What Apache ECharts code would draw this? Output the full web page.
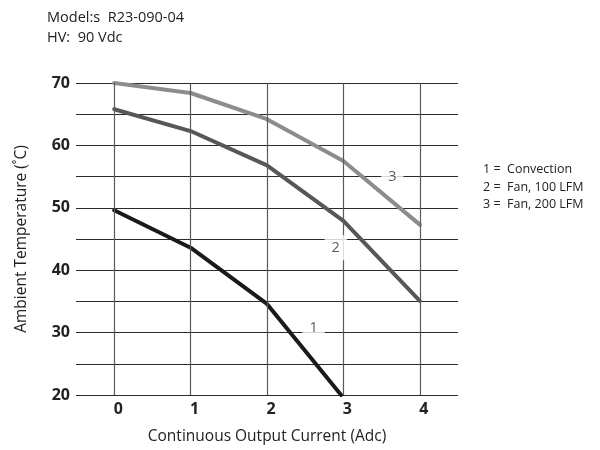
<!DOCTYPE html>
<html>
<head>
<meta charset="utf-8">
<script src="https://cdn.jsdelivr.net/npm/echarts@6/dist/echarts.min.js"></script>
<style>html,body{margin:0;padding:0;background:#fff;}#c{width:600px;height:450px;}</style>
</head>
<body>
<div id="c"></div>
<script>
var xTicks = [0, 1, 2, 3, 4];
var convection = [[0, 49.6], [1, 43.6], [2, 34.6], [2.97, 20]];
var fan100 = [[0, 65.8], [1, 62.3], [2, 56.8], [3, 47.9], [4, 35.1]];
var fan200 = [[0, 70], [1, 68.4], [2, 64.2], [3, 57.5], [4, 47.3]];
var curveLabels = [[2.61, 30.8, '1'], [2.9, 43.6, '2'], [3.64, 55, '3']];
var legendLines = ['1 =  Convection', '2 =  Fan, 100 LFM', '3 =  Fan, 200 LFM'];
var titleLines = ['Model:s  R23-090-04', 'HV:  90 Vdc'];

var font = 'Open Sans';
var chart = echarts.init(document.getElementById('c'));
chart.setOption({
  animation: false,
  backgroundColor: '#fff',
  graphic: [
    { type: 'text', left: 47, top: 8, style: { text: titleLines.join('\n'), font: '14.5px "' + font + '"', fill: '#222', lineHeight: 20 } },
    { type: 'text', left: 483, top: 161, style: { text: legendLines.join('\n'), font: '12.5px "' + font + '"', fill: '#222', lineHeight: 17.5 } }
  ],
  grid: { left: 76, right: 142, top: 83, bottom: 53 },
  xAxis: {
    type: 'value', min: -0.5, max: 4.5, interval: 0.5,
    axisLine: { show: false }, axisTick: { show: false }, splitLine: { show: false },
    axisLabel: {
      margin: 6, fontFamily: font, fontSize: 16, fontWeight: 'bold', color: '#222',
      padding: [0, 0, 0, 8],
      formatter: function (v) { return (Math.abs(v - Math.round(v)) < 1e-6 && v >= 0 && v <= 4) ? String(Math.round(v)) : ''; }
    },
    name: 'Continuous Output Current (Adc)', nameLocation: 'middle', nameGap: 34,
    nameTextStyle: { fontFamily: font, fontSize: 15.5, color: '#222' }
  },
  yAxis: {
    type: 'value', min: 20, max: 70, interval: 5,
    axisLine: { show: false }, axisTick: { show: false },
    splitLine: { show: true, lineStyle: { color: '#2a2a2a', width: 1.2 } },
    axisLabel: {
      margin: 6, fontFamily: font, fontSize: 16, fontWeight: 'bold', color: '#222',
      formatter: function (v) { return v % 10 === 0 ? String(v) : ''; }
    },
    name: 'Ambient Temperature (˚C)', nameLocation: 'middle', nameGap: 46,
    nameTextStyle: { fontFamily: font, fontSize: 15.5, color: '#222' }
  },
  series: [
    {
      type: 'line', data: [], silent: true,
      markLine: {
        silent: true, symbol: 'none', animation: false,
        label: { show: false },
        lineStyle: { color: '#5a5a5a', width: 1.2, type: 'solid' },
        data: xTicks.map(function (v) { return { xAxis: v }; })
      }
    },
    { name: '3', type: 'line', data: fan200, symbol: 'none', z: 3,
      lineStyle: { color: '#8c8c8c', width: 4, cap: 'round', join: 'round' } },
    { name: '2', type: 'line', data: fan100, symbol: 'none', z: 3,
      lineStyle: { color: '#575757', width: 4, cap: 'round', join: 'round' } },
    { name: '1', type: 'line', data: convection, symbol: 'none', z: 3,
      lineStyle: { color: '#1a1a1a', width: 4, cap: 'round', join: 'round' } },
    {
      type: 'scatter', symbolSize: 0, z: 5, silent: true,
      data: curveLabels.map(function (d) { return { value: [d[0], d[1]], name: d[2] }; }),
      label: {
        show: true, position: 'inside', formatter: '{b}',
        fontFamily: font, fontSize: 14.5, color: '#333',
        backgroundColor: '#fff', padding: [5, 7]
      }
    }
  ]
});
</script>
</body>
</html>
